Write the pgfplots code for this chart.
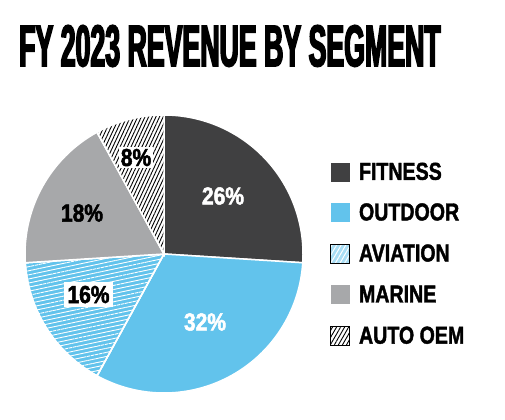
\documentclass[border=0pt]{standalone}
\usepackage{fontspec}
\usepackage{pgfplots}
\pgfplotsset{compat=1.18}
\usetikzlibrary{patterns.meta}
\setmainfont{Liberation Sans}
\newfontfamily\titlefont[FakeStretch=0.455, FakeBold=2.6]{Liberation Sans}
\newfontfamily\condfont[FakeStretch=0.8, FakeBold=1.6]{Liberation Sans}
\newfontfamily\lblfont[FakeStretch=0.85, FakeBold=2]{Liberation Sans}
\definecolor{fitness}{HTML}{404041}
\definecolor{outdoor}{HTML}{62C3EC}
\definecolor{marine}{HTML}{A7A8AA}
\begin{document}
\begin{tikzpicture}
\begin{axis}[
  width=505bp, height=420bp, scale only axis,
  xmin=-164, xmax=341, ymin=-166, ymax=254,
  hide axis, clip=false,
  legend image code/.code={\path[#1, draw=none] (0bp,-9.5bp) rectangle (19bp,9.5bp);},
  legend cell align=left,
  legend style={at={(0.6535,0.6131)}, anchor=north west, draw=none, fill=none,
    inner sep=0pt, outer sep=0pt, row sep=21.6bp, column sep=9bp,
    font=\condfont\bfseries\fontsize{24.5bp}{26bp}\selectfont,
    nodes={inner sep=0pt, outer sep=0pt}},
]
\addplot[draw=none, forget plot] coordinates {(-164,-166) (341,254)};
% pie slices: FITNESS 26, OUTDOOR 32, AVIATION 16, MARINE 18, AUTO OEM 8 (percent)
\addplot[fill=fitness, draw=white, line width=1.5bp, data cs=polar, domain=-3.6:90, samples=80, forget plot] ({x},{139}) -- (axis cs:0,0) -- cycle;
\addplot[fill=outdoor, draw=white, line width=1.5bp, data cs=polar, domain=241.2:356.4, samples=90, forget plot] ({x},{139}) -- (axis cs:0,0) -- cycle;
\addplot[fill=outdoor, draw=white, line width=1.5bp, data cs=polar, domain=183.6:241.2, samples=50, forget plot,
  postaction={pattern={Lines[angle=12, distance=4bp, line width=0.9bp]}, pattern color=white}] ({x},{139}) -- (axis cs:0,0) -- cycle;
\addplot[fill=marine, draw=white, line width=1.5bp, data cs=polar, domain=118.8:183.6, samples=60, forget plot] ({x},{139}) -- (axis cs:0,0) -- cycle;
\addplot[fill=white, draw=white, line width=1.5bp, data cs=polar, domain=90:118.8, samples=30, forget plot,
  postaction={pattern={Lines[angle=65, distance=3.3bp, line width=0.9bp]}, pattern color=black}] ({x},{139}) -- (axis cs:0,0) -- cycle;
% legend
\addlegendimage{fill=fitness}
\addlegendentry{FITNESS}
\addlegendimage{fill=outdoor}
\addlegendentry{OUTDOOR}
\addlegendimage{fill=outdoor!55, postaction={pattern={Lines[angle=60, distance=4bp, line width=1bp]}, pattern color=white}}
\addlegendentry{AVIATION}
\addlegendimage{fill=marine}
\addlegendentry{MARINE}
\addlegendimage{fill=white, postaction={pattern={Lines[angle=60, distance=3.5bp, line width=0.9bp]}, pattern color=black}}
\addlegendentry{AUTO OEM}
% labels
\node[text=white, inner sep=0pt, font=\lblfont\bfseries\fontsize{24.7bp}{26bp}\selectfont] at (axis cs:59,58) {26\%};
\node[text=white, inner sep=0pt, font=\lblfont\bfseries\fontsize{24.7bp}{26bp}\selectfont] at (axis cs:41,-68) {32\%};
\node[text=black, fill=white, inner xsep=3.5bp, inner ysep=3.5bp, font=\lblfont\bfseries\fontsize{24.7bp}{26bp}\selectfont] at (axis cs:-75.5,-40.5) {16\%};
\node[text=black, inner sep=0pt, font=\lblfont\bfseries\fontsize{24.7bp}{26bp}\selectfont] at (axis cs:-82,41) {18\%};
\node[text=black, fill=white, inner xsep=1.5bp, inner ysep=1.7bp, font=\lblfont\bfseries\fontsize{24.7bp}{26bp}\selectfont] at (axis cs:-28,96.5) {8\%};
% title
\node[anchor=west, inner sep=0pt, font=\titlefont\bfseries\fontsize{58.7bp}{60bp}\selectfont] at (axis cs:-145,208) {FY 2023 REVENUE BY SEGMENT};
\end{axis}
\end{tikzpicture}
\end{document}
